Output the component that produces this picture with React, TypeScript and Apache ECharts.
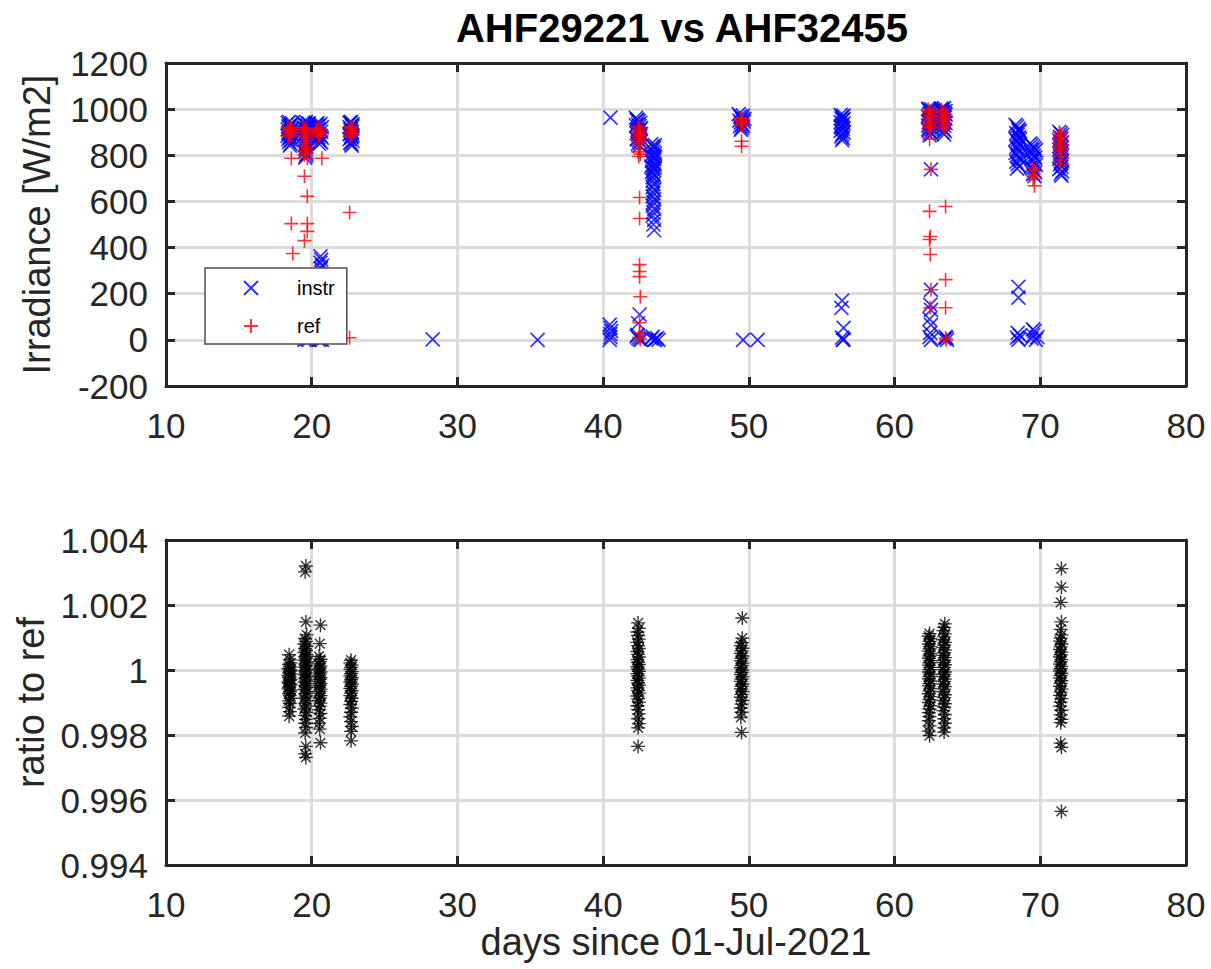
import React, { useEffect, useRef } from 'react';
import * as echarts from 'echarts';

// ---------- data ----------
const titleText = 'AHF29221 vs AHF32455';
const xName = 'days since 01-Jul-2021';
const yNameTop = 'Irradiance [W/m2]';
const yNameBottom = 'ratio to ref';

const instrDay18to20: number[][] = [
  [18.35, 940], [18.45, 945], [18.55, 932], [18.65, 938], [18.4, 925], [18.5, 930], [18.6, 918], [18.35, 912],
  [18.45, 920], [18.55, 905], [18.65, 910], [18.4, 898], [18.5, 902], [18.6, 890], [18.35, 884], [18.45, 893],
  [18.55, 877], [18.65, 886], [18.4, 870], [18.5, 880], [18.6, 866], [18.45, 858], [18.55, 850], [18.5, 842],
  [19.4, 942], [19.5, 935], [19.6, 945], [19.7, 928], [19.8, 938], [19.45, 921], [19.55, 930], [19.65, 912],
  [19.75, 920], [19.4, 905], [19.5, 915], [19.6, 898], [19.7, 908], [19.8, 890], [19.45, 882], [19.55, 895],
  [19.65, 875], [19.75, 886], [19.5, 868], [19.6, 860], [19.7, 852], [19.55, 845], [19.65, 836], [19.6, 826],
  [19.55, 815], [19.65, 806], [19.6, 798], [19.55, 790],
  [19.5, 0], [19.6, 8], [19.7, 3], [19.8, 0],
  [20.3, 935], [20.4, 940], [20.5, 928], [20.6, 936], [20.7, 922], [20.35, 930], [20.45, 915], [20.55, 910],
  [20.65, 902], [20.3, 896], [20.4, 906], [20.5, 890], [20.6, 884], [20.7, 876], [20.35, 888], [20.45, 870],
  [20.55, 862], [20.65, 856], [20.5, 850], [20.45, 878],
  [20.6, 362], [20.65, 348], [20.6, 335], [20.7, 322], [20.62, 310], [20.4, 5], [20.5, 0], [20.6, 3], [20.7, 0],
];
const instrDay22: number[][] = [
  [22.6, 942], [22.7, 945], [22.8, 935], [22.65, 940], [22.75, 930], [22.6, 922], [22.7, 915], [22.8, 925],
  [22.65, 910], [22.75, 900], [22.6, 892], [22.7, 905], [22.8, 886], [22.65, 895], [22.75, 878], [22.6, 870],
  [22.7, 882], [22.8, 862], [22.65, 855], [22.7, 848], [22.75, 842],
];
const instrDay28to40: number[][] = [
  [28.3, 2], [35.5, 0], [40.5, 963],
  [40.45, 0], [40.5, 12], [40.5, 25], [40.55, 38], [40.5, 52], [40.45, 66],
];
const instrDay42to43: number[][] = [
  [42.25, 962], [42.35, 955], [42.45, 948], [42.55, 940], [42.3, 952], [42.4, 934], [42.5, 926], [42.6, 918],
  [42.25, 930], [42.35, 910], [42.45, 902], [42.55, 912], [42.3, 895], [42.4, 888], [42.5, 880], [42.6, 893],
  [42.35, 872], [42.45, 865], [42.55, 858], [42.4, 850], [42.5, 842], [42.3, 870],
  [42.5, 110], [42.4, 72], [42.3, 15], [42.4, 8], [42.5, 3], [42.6, 0], [42.35, 22],
  [43.3, 848], [43.4, 840], [43.5, 832], [43.55, 844], [43.35, 824], [43.45, 816], [43.55, 808], [43.3, 800],
  [43.4, 792], [43.5, 784], [43.55, 796], [43.35, 776], [43.45, 768], [43.55, 760], [43.3, 752], [43.4, 744],
  [43.5, 736], [43.55, 748], [43.35, 728], [43.45, 720], [43.5, 712], [43.4, 704],
  [43.4, 690], [43.45, 676], [43.4, 662], [43.5, 650], [43.45, 636], [43.4, 622], [43.5, 610], [43.45, 596],
  [43.4, 582], [43.5, 566], [43.45, 552], [43.4, 538], [43.5, 520], [43.45, 500], [43.5, 475],
  [43.3, 5], [43.5, 0], [43.7, 8], [43.6, 2], [43.4, 14], [43.8, 0],
];
const instrDay49to56: number[][] = [
  [49.3, 978], [49.4, 970], [49.5, 962], [49.6, 972], [49.7, 958], [49.35, 950], [49.45, 942], [49.55, 934],
  [49.65, 946], [49.4, 926], [49.5, 918], [49.6, 925], [49.45, 910], [49.55, 955],
  [49.6, 0], [50.6, 0],
  [56.3, 975], [56.4, 968], [56.5, 972], [56.35, 960], [56.45, 952], [56.3, 944], [56.5, 938], [56.4, 930],
  [56.35, 922], [56.45, 914], [56.3, 906], [56.5, 898], [56.4, 890], [56.35, 882], [56.45, 874], [56.4, 866],
  [56.5, 958], [56.3, 925],
  [56.4, 170], [56.35, 139], [56.5, 52], [56.4, 10], [56.5, 2], [56.45, 0],
];
const instrDay62to63: number[][] = [
  [62.3, 1002], [62.4, 995], [62.5, 1000], [62.6, 990], [62.35, 998], [62.45, 983], [62.55, 975], [62.3, 968],
  [62.4, 980], [62.5, 960], [62.6, 952], [62.35, 945], [62.45, 958], [62.55, 938], [62.3, 930], [62.4, 922],
  [62.5, 935], [62.6, 915], [62.35, 907], [62.45, 900], [62.55, 892], [62.4, 886], [62.3, 912],
  [62.5, 739], [62.5, 217], [62.45, 152], [62.5, 130], [62.4, 90], [62.5, 65], [62.45, 30], [62.5, 0], [62.4, 12],
  [63.2, 1002], [63.3, 996], [63.4, 1004], [63.5, 992], [63.25, 1000], [63.35, 988], [63.45, 980], [63.2, 972],
  [63.3, 985], [63.4, 966], [63.5, 976], [63.25, 958], [63.35, 950], [63.45, 962], [63.2, 944], [63.3, 936],
  [63.4, 928], [63.5, 940], [63.25, 920], [63.35, 912], [63.45, 905], [63.3, 898], [63.4, 890],
  [63.5, 13], [63.6, 0], [63.4, 5], [63.55, 8],
];
const instrDay68to71: number[][] = [
  [68.3, 932], [68.4, 925], [68.5, 915], [68.6, 905], [68.35, 896], [68.45, 888], [68.55, 878], [68.3, 870],
  [68.4, 862], [68.5, 853], [68.6, 845], [68.35, 836], [68.45, 828], [68.55, 818], [68.3, 810], [68.4, 800],
  [68.5, 792], [68.6, 782], [68.35, 772], [68.45, 762], [68.55, 752], [68.4, 742], [68.5, 908], [68.6, 870],
  [68.5, 230], [68.5, 183], [68.4, 10], [68.5, 0], [68.6, 18], [68.45, 30],
  [69.3, 852], [69.4, 845], [69.5, 838], [69.6, 830], [69.7, 822], [69.35, 815], [69.45, 806], [69.55, 798],
  [69.65, 790], [69.4, 782], [69.5, 774], [69.6, 766], [69.7, 758], [69.35, 750], [69.45, 742], [69.55, 734],
  [69.65, 726], [69.5, 718], [69.6, 710], [69.4, 825],
  [69.4, 5], [69.5, 20], [69.6, 38], [69.7, 0], [69.5, 45], [69.8, 12],
  [71.3, 902], [71.4, 895], [71.5, 888], [71.35, 880], [71.45, 872], [71.3, 864], [71.5, 856], [71.4, 848],
  [71.35, 840], [71.45, 832], [71.3, 824], [71.5, 816], [71.4, 808], [71.35, 800], [71.45, 792], [71.3, 784],
  [71.5, 776], [71.4, 768], [71.35, 760], [71.45, 750], [71.3, 740], [71.5, 730], [71.4, 720], [71.45, 712],
];

const refDay18to22: number[][] = [
  [18.35, 922], [18.45, 915], [18.55, 920], [18.65, 908], [18.4, 902], [18.5, 910], [18.6, 896], [18.45, 890],
  [18.55, 884], [18.4, 878], [18.6, 912],
  [18.6, 787], [18.6, 504], [18.7, 374],
  [19.4, 920], [19.5, 912], [19.6, 918], [19.7, 905], [19.45, 898], [19.55, 908], [19.65, 892], [19.5, 884],
  [19.6, 876], [19.7, 868], [19.55, 860], [19.6, 850], [19.5, 840], [19.65, 830], [19.55, 820], [19.6, 810],
  [19.5, 802],
  [19.7, 787], [19.5, 709], [19.7, 622], [19.7, 504], [19.7, 470], [19.5, 430], [19.6, 10],
  [20.3, 915], [20.4, 908], [20.5, 918], [20.6, 900], [20.45, 894], [20.55, 888], [20.35, 902], [20.65, 912],
  [20.5, 882],
  [20.7, 787],
  [22.6, 924], [22.7, 916], [22.8, 908], [22.65, 900], [22.75, 893], [22.7, 886], [22.65, 880], [22.75, 920],
  [22.6, 552], [22.6, 9],
];
const refDay42to49: number[][] = [
  [42.4, 925], [42.5, 918], [42.45, 910], [42.55, 903], [42.4, 896], [42.5, 889], [42.45, 882], [42.55, 874],
  [42.4, 866], [42.5, 858], [42.45, 850], [42.5, 826], [42.4, 815], [42.55, 805], [42.45, 795],
  [42.5, 617], [42.5, 526], [42.5, 326], [42.5, 296], [42.5, 274], [42.55, 187], [42.5, 74], [42.5, 30],
  [42.45, 10], [42.55, 2],
  [49.4, 958], [49.5, 950], [49.6, 942], [49.45, 935], [49.55, 928], [49.5, 962], [49.5, 861], [49.5, 839],
];
const refDay62to71: number[][] = [
  [62.3, 1000], [62.4, 992], [62.5, 985], [62.35, 977], [62.45, 970], [62.4, 962], [62.5, 955], [62.3, 947],
  [62.45, 940], [62.35, 932], [62.5, 925], [62.4, 918],
  [62.4, 904], [62.4, 870], [62.5, 739], [62.4, 557], [62.45, 448], [62.4, 435], [62.45, 370], [62.5, 217], [62.45, 139],
  [63.2, 998], [63.3, 990], [63.4, 983], [63.5, 976], [63.25, 968], [63.35, 961], [63.45, 953], [63.3, 946],
  [63.4, 938], [63.5, 930], [63.35, 922], [63.45, 914],
  [63.5, 578], [63.5, 261], [63.5, 139], [63.5, 8], [63.55, 0],
  [69.5, 745], [69.6, 732], [69.55, 720], [69.6, 708], [69.5, 695], [69.6, 668],
  [71.3, 900], [71.4, 892], [71.35, 884], [71.45, 876], [71.3, 868], [71.4, 860], [71.35, 852], [71.45, 844],
  [71.3, 836], [71.4, 828], [71.35, 818], [71.45, 808], [71.4, 795], [71.35, 780], [71.4, 760],
];

const ratioDay18to22: number[][] = [
  [18.45, 1.00047], [18.5, 1.00031], [18.55, 1.00022], [18.45, 1.00017], [18.5, 1.0001], [18.4, 1.00004],
  [18.55, 1.0], [18.5, 0.99996], [18.45, 0.99991], [18.55, 0.99988], [18.4, 0.99983], [18.5, 0.99979],
  [18.45, 0.99976], [18.55, 0.99971], [18.5, 0.99968], [18.4, 0.99963], [18.45, 0.99959], [18.55, 0.99956],
  [18.5, 0.99951], [18.45, 0.99947], [18.4, 0.99942], [18.55, 0.99938], [18.5, 0.99933], [18.45, 0.99927],
  [18.5, 0.99921], [18.55, 0.99913], [18.45, 0.99905], [18.5, 0.99897], [18.45, 0.99885], [18.5, 0.99872],
  [18.45, 0.99858],
  [19.6, 1.0032], [19.55, 1.00302], [19.6, 1.00148], [19.65, 1.00108], [19.55, 1.00097], [19.6, 1.00088],
  [19.5, 1.0008], [19.65, 1.00073], [19.55, 1.00066], [19.6, 1.0006], [19.5, 1.00054], [19.65, 1.00047],
  [19.55, 1.00041], [19.6, 1.00036], [19.5, 1.0003], [19.65, 1.00024], [19.55, 1.00019], [19.6, 1.00013],
  [19.5, 1.00008], [19.65, 1.00002], [19.55, 0.99997], [19.6, 0.99991], [19.5, 0.99986], [19.65, 0.9998],
  [19.55, 0.99975], [19.6, 0.99969], [19.5, 0.99963], [19.65, 0.99958], [19.55, 0.99952], [19.6, 0.99946],
  [19.5, 0.9994], [19.65, 0.99933], [19.55, 0.99927], [19.6, 0.9992], [19.5, 0.99913], [19.65, 0.99905],
  [19.55, 0.99897], [19.6, 0.99889], [19.5, 0.9988], [19.65, 0.9987], [19.55, 0.9986], [19.6, 0.99848],
  [19.55, 0.99836], [19.6, 0.99823], [19.55, 0.99806], [19.6, 0.99765], [19.55, 0.99742], [19.6, 0.99731],
  [20.6, 1.00138], [20.55, 1.00081], [20.5, 1.00042], [20.6, 1.00033], [20.55, 1.00026], [20.5, 1.00019],
  [20.6, 1.00012], [20.55, 1.00006], [20.5, 1.0], [20.6, 0.99994], [20.55, 0.99988], [20.5, 0.99982],
  [20.6, 0.99976], [20.55, 0.99971], [20.5, 0.99965], [20.6, 0.99959], [20.55, 0.99953], [20.5, 0.99947],
  [20.6, 0.99941], [20.55, 0.99935], [20.5, 0.99928], [20.6, 0.99921], [20.55, 0.99914], [20.5, 0.99906],
  [20.6, 0.99898], [20.55, 0.99889], [20.5, 0.99878], [20.6, 0.99866], [20.55, 0.99851], [20.5, 0.99836],
  [20.55, 0.99818], [20.6, 0.99776],
  [22.7, 1.0003], [22.65, 1.00022], [22.75, 1.00015], [22.7, 1.00008], [22.65, 1.00002], [22.75, 0.99995],
  [22.7, 0.99989], [22.65, 0.99982], [22.75, 0.99976], [22.7, 0.9997], [22.65, 0.99963], [22.75, 0.99957],
  [22.7, 0.9995], [22.65, 0.99943], [22.75, 0.99936], [22.7, 0.99929], [22.65, 0.99921], [22.75, 0.99913],
  [22.7, 0.99904], [22.65, 0.99894], [22.75, 0.99883], [22.7, 0.9987], [22.65, 0.99856], [22.7, 0.99841],
  [22.75, 0.99826], [22.7, 0.99811], [22.7, 0.99782],
];
const ratioDay42to49: number[][] = [
  [42.4, 1.00145], [42.45, 1.00128], [42.35, 1.00117], [42.4, 1.00106], [42.45, 1.00095], [42.35, 1.00085],
  [42.4, 1.00075], [42.45, 1.00066], [42.35, 1.00057], [42.4, 1.00048], [42.45, 1.0004], [42.35, 1.00032],
  [42.4, 1.00024], [42.45, 1.00017], [42.35, 1.0001], [42.4, 1.00003], [42.45, 0.99996], [42.35, 0.99989],
  [42.4, 0.99982], [42.45, 0.99975], [42.35, 0.99968], [42.4, 0.9996], [42.45, 0.99953], [42.35, 0.99945],
  [42.4, 0.99937], [42.45, 0.99929], [42.35, 0.9992], [42.4, 0.99911], [42.45, 0.99901], [42.35, 0.9989],
  [42.4, 0.99878], [42.45, 0.99865], [42.4, 0.9985], [42.45, 0.99835], [42.4, 0.99822], [42.4, 0.99765],
  [49.55, 1.0016], [49.55, 1.00098], [49.5, 1.00084], [49.45, 1.00075], [49.55, 1.00067], [49.5, 1.00059],
  [49.45, 1.00051], [49.55, 1.00043], [49.5, 1.00036], [49.45, 1.00028], [49.55, 1.00021], [49.5, 1.00014],
  [49.45, 1.00007], [49.55, 1.0], [49.5, 0.99993], [49.45, 0.99986], [49.55, 0.99979], [49.5, 0.99972],
  [49.45, 0.99965], [49.55, 0.99957], [49.5, 0.9995], [49.45, 0.99942], [49.55, 0.99934], [49.5, 0.99925],
  [49.45, 0.99916], [49.55, 0.99906], [49.5, 0.99895], [49.45, 0.99883], [49.5, 0.9987], [49.45, 0.99854],
  [49.5, 0.99808],
];
const ratioDay62to71: number[][] = [
  [62.4, 1.00112], [62.35, 1.00104], [62.45, 1.00096], [62.4, 1.00088], [62.35, 1.0008], [62.45, 1.00072],
  [62.4, 1.00065], [62.35, 1.00058], [62.45, 1.0005], [62.4, 1.00043], [62.35, 1.00036], [62.45, 1.00029],
  [62.4, 1.00022], [62.35, 1.00015], [62.45, 1.00008], [62.4, 1.00001], [62.35, 0.99994], [62.45, 0.99987],
  [62.4, 0.9998], [62.35, 0.99973], [62.45, 0.99966], [62.4, 0.99958], [62.35, 0.99951], [62.45, 0.99943],
  [62.4, 0.99935], [62.35, 0.99927], [62.45, 0.99918], [62.4, 0.99909], [62.35, 0.999], [62.45, 0.9989],
  [62.4, 0.9988], [62.35, 0.99869], [62.4, 0.99857], [62.35, 0.99844], [62.4, 0.99828], [62.35, 0.99812],
  [62.4, 0.99798],
  [63.45, 1.00142], [63.4, 1.00131], [63.35, 1.00121], [63.45, 1.00111], [63.4, 1.00102], [63.35, 1.00093],
  [63.45, 1.00085], [63.4, 1.00077], [63.35, 1.00069], [63.45, 1.00061], [63.4, 1.00053], [63.35, 1.00045],
  [63.45, 1.00038], [63.4, 1.0003], [63.35, 1.00023], [63.45, 1.00016], [63.4, 1.00008], [63.35, 1.00001],
  [63.45, 0.99994], [63.4, 0.99987], [63.35, 0.9998], [63.45, 0.99972], [63.4, 0.99965], [63.35, 0.99957],
  [63.45, 0.99949], [63.4, 0.99941], [63.35, 0.99933], [63.45, 0.99924], [63.4, 0.99915], [63.35, 0.99906],
  [63.45, 0.99896], [63.4, 0.99886], [63.35, 0.99875], [63.45, 0.99863], [63.4, 0.9985], [63.45, 0.99836],
  [63.4, 0.99822], [63.4, 0.99809],
  [71.45, 1.00312], [71.45, 1.00255], [71.4, 1.00208], [71.45, 1.00148], [71.4, 1.00125], [71.45, 1.00108],
  [71.4, 1.00098], [71.35, 1.00089], [71.45, 1.0008], [71.4, 1.00071], [71.35, 1.00063], [71.45, 1.00055],
  [71.4, 1.00047], [71.35, 1.0004], [71.45, 1.00032], [71.4, 1.00025], [71.35, 1.00018], [71.45, 1.00011],
  [71.4, 1.00004], [71.35, 0.99997], [71.45, 0.9999], [71.4, 0.99983], [71.35, 0.99975], [71.45, 0.99967],
  [71.4, 0.99959], [71.35, 0.9995], [71.45, 0.99941], [71.4, 0.99932], [71.35, 0.99922], [71.45, 0.99912],
  [71.4, 0.99901], [71.35, 0.99889], [71.45, 0.99876], [71.4, 0.99862], [71.45, 0.99848], [71.4, 0.99838],
  [71.4, 0.99775], [71.45, 0.99762], [71.45, 0.99565],
];

const instrData = [
  ...instrDay18to20, ...instrDay22, ...instrDay28to40, ...instrDay42to43, ...instrDay49to56,
  ...instrDay62to63, ...instrDay68to71,
];
const refData = [...refDay18to22, ...refDay42to49, ...refDay62to71];
const ratioData = [...ratioDay18to22, ...ratioDay42to49, ...ratioDay62to71];

// ---------- styling ----------
const FONT = '"Liberation Sans", Arial, Helvetica, sans-serif';
const AX = '#262626';
const GRIDC = '#dcdcdc';
const SYM_X = 'path://M0,0L10,10M10,0L0,10';
const SYM_PLUS = 'path://M5,0L5,10M0,5L10,5';
const SYM_STAR = 'path://M5,0L5,10M0,5L10,5M1.5,1.5L8.5,8.5M8.5,1.5L1.5,8.5';

function mainX(gridIndex: number, withName: boolean) {
  return {
    gridIndex,
    type: 'value',
    min: 10,
    max: 80,
    interval: 10,
    position: 'bottom',
    name: withName ? xName : '',
    nameLocation: 'middle',
    nameGap: 56,
    nameTextStyle: { fontFamily: FONT, fontSize: 38, color: AX },
    axisLine: { show: true, onZero: false, lineStyle: { color: AX, width: 3 } },
    axisTick: { show: true, inside: true, length: 9, lineStyle: { color: AX, width: 3 } },
    axisLabel: { show: true, fontFamily: FONT, fontSize: 35, color: AX, margin: 22 },
    splitLine: { show: true, lineStyle: { color: GRIDC, width: 3 } },
  };
}
function topX(gridIndex: number) {
  return {
    gridIndex,
    type: 'value',
    min: 10,
    max: 80,
    interval: 10,
    position: 'top',
    axisLine: { show: true, onZero: false, lineStyle: { color: AX, width: 3 } },
    axisTick: { show: true, inside: true, length: 9, lineStyle: { color: AX, width: 3 } },
    axisLabel: { show: false },
    splitLine: { show: false },
  };
}
function mainY(gridIndex: number, min: number, max: number, interval: number, name: string, nameGap: number, fmt: (v: number) => string) {
  return {
    gridIndex,
    type: 'value',
    min,
    max,
    interval,
    position: 'left',
    name,
    nameLocation: 'middle',
    nameGap,
    nameTextStyle: { fontFamily: FONT, fontSize: 38, color: AX },
    axisLine: { show: true, onZero: false, lineStyle: { color: AX, width: 3 } },
    axisTick: { show: true, inside: true, length: 9, lineStyle: { color: AX, width: 3 } },
    axisLabel: { show: true, fontFamily: FONT, fontSize: 35, color: AX, margin: 18, formatter: fmt },
    splitLine: { show: true, lineStyle: { color: GRIDC, width: 3 } },
  };
}
function rightY(gridIndex: number, min: number, max: number, interval: number) {
  return {
    gridIndex,
    type: 'value',
    min,
    max,
    interval,
    position: 'right',
    axisLine: { show: true, onZero: false, lineStyle: { color: AX, width: 3 } },
    axisTick: { show: true, inside: true, length: 9, lineStyle: { color: AX, width: 3 } },
    axisLabel: { show: false },
    splitLine: { show: false },
  };
}

const plainFmt = (v: number) => String(v);
const ratioFmt = (v: number) => String(parseFloat(v.toFixed(3)));

export default function App() {
  const ref = useRef<HTMLDivElement>(null);
  useEffect(() => {
    document.body.style.margin = '0';
    if (!ref.current) return;
    const chart = echarts.init(ref.current, undefined, { renderer: 'svg' });
    chart.setOption({
      animation: false,
      backgroundColor: '#ffffff',
      title: {
        text: titleText,
        left: 677,
        top: 3,
        textAlign: 'center',
        textStyle: { fontFamily: FONT, fontSize: 40, fontWeight: 'bold', color: '#000' },
      },
      legend: {
        data: ['instr', 'ref'],
        orient: 'vertical',
        left: 205,
        top: 268,
        padding: [10, 12, 8, 38],
        itemGap: 18,
        itemWidth: 14,
        itemHeight: 14,
        backgroundColor: '#ffffff',
        borderColor: '#4d4d4d',
        borderWidth: 1.5,
        textStyle: { fontFamily: FONT, fontSize: 20, color: '#000', padding: [0, 0, 0, 34] },
      },
      grid: [
        { left: 166, top: 63, width: 1020, height: 323 },
        { left: 166, top: 540, width: 1020, height: 325 },
      ],
      xAxis: [mainX(0, false), topX(0), mainX(1, true), topX(1)],
      yAxis: [
        mainY(0, -200, 1200, 200, yNameTop, 110, plainFmt),
        rightY(0, -200, 1200, 200),
        mainY(1, 0.994, 1.004, 0.002, yNameBottom, 100, ratioFmt),
        rightY(1, 0.994, 1.004, 0.002),
      ],
      series: [
        {
          name: 'instr',
          type: 'scatter',
          xAxisIndex: 0,
          yAxisIndex: 0,
          symbol: SYM_X,
          symbolSize: 14,
          itemStyle: { color: 'rgba(0,0,0,0)', borderColor: '#0000ff', borderWidth: 1.7 },
          data: instrData,
        },
        {
          name: 'ref',
          type: 'scatter',
          xAxisIndex: 0,
          yAxisIndex: 0,
          symbol: SYM_PLUS,
          symbolSize: 14,
          itemStyle: { color: 'rgba(0,0,0,0)', borderColor: '#ff0000', borderWidth: 1.6 },
          data: refData,
        },
        {
          name: 'ratio',
          type: 'scatter',
          xAxisIndex: 2,
          yAxisIndex: 2,
          symbol: SYM_STAR,
          symbolSize: 14,
          itemStyle: { color: 'rgba(0,0,0,0)', borderColor: '#000000', borderWidth: 1.4 },
          data: ratioData,
        },
      ],
    });
    return () => chart.dispose();
  }, []);
  return <div ref={ref} style={{ width: 1211, height: 969 }} />;
}
